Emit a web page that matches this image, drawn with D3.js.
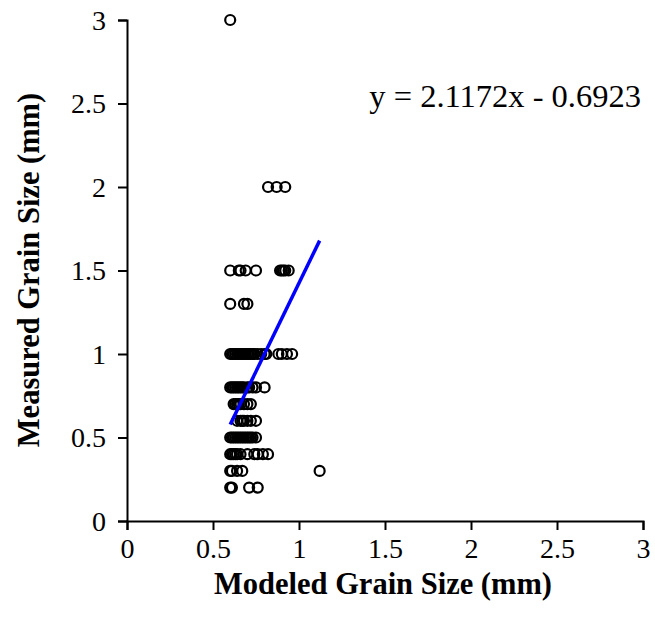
<!DOCTYPE html>
<html>
<head>
<meta charset="utf-8">
<script src="https://cdn.jsdelivr.net/npm/d3@7"></script>
<style>
  body { margin: 0; background: #fff; }
  text { font-family: "Liberation Serif", "Times New Roman", serif; fill: #000; }
</style>
</head>
<body>
<script>
(function(){

    //measured grain size levels and the modeled values read at each level
    var measured = [];
    var modeled = [];
    var rows = [
        [3.0, [0.6]],
        [2.0, [0.82, 0.87, 0.92]],
        [1.5, [0.6, 0.65, 0.66, 0.69, 0.75, 0.89, 0.9, 0.91, 0.92, 0.94]],
        [1.3, [0.6, 0.68, 0.7]],
        [1.0, [0.6, 0.61, 0.62, 0.63, 0.64, 0.65, 0.66, 0.67, 0.68, 0.69, 0.7, 0.71, 0.72, 0.73, 0.74, 0.76, 0.78, 0.8, 0.81, 0.88, 0.9, 0.93, 0.96]],
        [0.8, [0.6, 0.61, 0.62, 0.63, 0.64, 0.65, 0.66, 0.67, 0.68, 0.7, 0.71, 0.73, 0.75, 0.8]],
        [0.7, [0.62, 0.63, 0.64, 0.65, 0.66, 0.68, 0.7, 0.72]],
        [0.6, [0.64, 0.66, 0.67, 0.68, 0.7, 0.72, 0.75]],
        [0.5, [0.6, 0.61, 0.62, 0.63, 0.64, 0.65, 0.66, 0.67, 0.68, 0.69, 0.7, 0.71, 0.72, 0.73, 0.75]],
        [0.4, [0.6, 0.61, 0.62, 0.63, 0.64, 0.66, 0.7, 0.74, 0.76, 0.79, 0.82]],
        [0.3, [0.6, 0.61, 0.64, 0.67, 1.12]],
        [0.2, [0.6, 0.61, 0.71, 0.76]]
    ];
    rows.forEach(function(r){
        r[1].forEach(function(m){
            measured.push(r[0]);
            modeled.push(m);
        });
    });

    //trend line
    var slope = 2.1172,
        intercept = -0.6923;
    var trendX = [0.6, 1.12];

    var tickValues = [0, 0.5, 1, 1.5, 2, 2.5, 3];

    var width = 655,
        height = 633;

    var svg = d3.select("body")
        .append("svg")
        .attr("width", width)
        .attr("height", height);

    var x = d3.scaleLinear().domain([0, 3]).range([127, 643]);
    var y = d3.scaleLinear().domain([0, 3]).range([521, 20]);

    //axes
    var xAxis = svg.append("g")
        .attr("transform", "translate(0," + y(0) + ")")
        .call(d3.axisBottom(x).tickValues(tickValues).tickFormat(d3.format("")).tickSize(9).tickPadding(6));
    var yAxis = svg.append("g")
        .attr("transform", "translate(" + x(0) + ",0)")
        .call(d3.axisLeft(y).tickValues(tickValues).tickFormat(d3.format("")).tickSize(9).tickPadding(12));

    [xAxis, yAxis].forEach(function(g){
        g.select(".domain").attr("stroke", "#000").attr("stroke-width", 2);
        g.selectAll(".tick line").attr("stroke", "#000").attr("stroke-width", 2);
        g.selectAll(".tick text")
            .style("font-family", "'Liberation Serif', 'Times New Roman', serif")
            .style("font-size", "28px")
            .attr("fill", "#000");
    });
    xAxis.selectAll(".tick text").attr("dy", "0.8em");
    yAxis.selectAll(".tick text").attr("dy", "0.33em");

    //points
    svg.selectAll(".pt")
        .data(modeled)
        .enter()
        .append("circle")
        .attr("class", "pt")
        .attr("cx", function(d){ return x(d); })
        .attr("cy", function(d, i){ return y(measured[i]); })
        .attr("r", 5)
        .attr("fill", "none")
        .attr("stroke", "#000")
        .attr("stroke-width", 2.2);

    //regression line
    svg.append("line")
        .attr("x1", x(trendX[0]))
        .attr("y1", y(slope * trendX[0] + intercept))
        .attr("x2", x(trendX[1]))
        .attr("y2", y(slope * trendX[1] + intercept))
        .attr("stroke", "#0000ff")
        .attr("stroke-width", 3.5);

    //equation
    svg.append("text")
        .attr("x", 641)
        .attr("y", 107)
        .attr("text-anchor", "end")
        .style("font-size", "32.5px")
        .text("y = 2.1172x - 0.6923");

    //axis titles
    svg.append("text")
        .attr("x", 383)
        .attr("y", 594)
        .attr("text-anchor", "middle")
        .style("font-size", "30.5px")
        .style("font-weight", "bold")
        .text("Modeled Grain Size (mm)");

    svg.append("text")
        .attr("transform", "translate(39," + 270 + ") rotate(-90)")
        .attr("text-anchor", "middle")
        .style("font-size", "30.5px")
        .style("font-weight", "bold")
        .text("Measured Grain Size (mm)");
})();
</script>
</body>
</html>
